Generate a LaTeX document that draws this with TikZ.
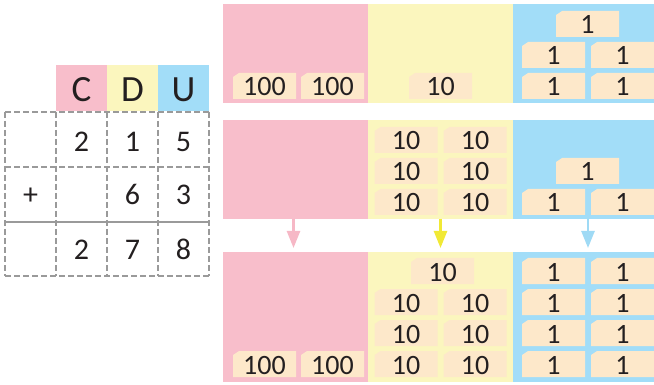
\documentclass[tikz,border=0pt]{standalone}
\usepackage{fontspec}
\setmainfont{Carlito}
\usepackage{xcolor}
\usetikzlibrary{positioning}
\usetikzlibrary{arrows.meta}

\definecolor{pinkC}{HTML}{F8BECB}
\definecolor{yellowD}{HTML}{FBF6BE}
\definecolor{blueU}{HTML}{A2DDF8}
\definecolor{cardfill}{HTML}{FDE8CA}
\definecolor{inkgray}{HTML}{231F20}
\definecolor{gridgray}{HTML}{9A9A9A}
\definecolor{arrowpink}{HTML}{F6B8C6}
\definecolor{arrowyellow}{HTML}{F1E935}
\definecolor{arrowblue}{HTML}{9FDAF5}

\tikzset{
  panel/.style={inner sep=0pt, outer sep=0pt, anchor=north west},
  cardtext/.style={anchor=base, inner sep=0pt, text=inkgray,
    font=\fontsize{28}{28}\selectfont},
  header/.style={inner sep=0pt, minimum width=51pt, minimum height=46pt,
    anchor=north west},
  htext/.style={anchor=base, text=inkgray, font=\fontsize{37}{37}\selectfont},
  digit/.style={anchor=base, text=inkgray, font=\fontsize{30}{30}\selectfont},
  gridline/.style={gridgray, line width=1.3pt, dash pattern=on 6pt off 3pt},
  down/.style={line width=2.5pt, shorten >=4pt,
    -{Triangle[width=13pt,length=17pt]}}
}

% a card with its top left corner cut: name, centre, text
\newcommand{\card}[3]{%
  \fill[cardfill] (#2) ++(-31.5,-9) -- ++(6,-4) -- ++(57,0) -- ++(0,26)
    -- ++(-63,0) -- cycle;
  \node[cardtext] (#1) at ([yshift=-10pt]#2) {#3};
}

\begin{document}
\begin{tikzpicture}[x=1pt,y=-1pt]

\clip (0,0) rectangle (654,385);

% Header boxes C D U
\node[header, fill=pinkC] (hC) at (56,65) {};
\node[header, fill=yellowD] (hD) at (107,65) {};
\node[header, fill=blueU] (hU) at (158,65) {};
\node[htext] (tC) at (81.5,102) {C};
\node[htext] (tD) at (132.5,102) {D};
\node[htext] (tU) at (183.5,102) {U};

% dashed grid
\foreach \x in {5,56,107,158,209}
  \draw[gridline] (\x,112) -- (\x,276);
\foreach \y in {112,167,276}
  \draw[gridline] (5,\y) -- (209,\y);

% result line
\draw[gridgray, line width=2pt] (5,222) -- (209,222);

% the numbers
\node[digit] (a1) at (81.5,152) {2};
\node[digit] (a2) at (132.5,152) {1};
\node[digit] (a3) at (183.5,152) {5};
\node[digit] (plus) at (30.5,205) {+};
\node[digit] (b2) at (132.5,205) {6};
\node[digit] (b3) at (183.5,205) {3};
\node[digit] (s1) at (81.5,259) {2};
\node[digit] (s2) at (132.5,259) {7};
\node[digit] (s3) at (183.5,259) {8};

% Panels, first row
\node[panel, fill=pinkC, minimum width=145pt, minimum height=99pt] (topC) at (223,4) {};
\node[panel, fill=yellowD, minimum width=145pt, minimum height=99pt] (topD) at (368,4) {};
\node[panel, fill=blueU, minimum width=150pt, minimum height=99pt] (topU) at (513,4) {};

% Panels, second row
\node[panel, fill=pinkC, minimum width=145pt, minimum height=99pt] (midC) at (223,120) {};
\node[panel, fill=yellowD, minimum width=145pt, minimum height=99pt] (midD) at (368,120) {};
\node[panel, fill=blueU, minimum width=150pt, minimum height=99pt] (midU) at (513,120) {};

% Panels, third row
\node[panel, fill=pinkC, minimum width=145pt, minimum height=130pt] (botC) at (223,252) {};
\node[panel, fill=yellowD, minimum width=145pt, minimum height=130pt] (botD) at (368,252) {};
\node[panel, fill=blueU, minimum width=150pt, minimum height=130pt] (botU) at (513,252) {};

% Arrows between second and third row
\draw[down, arrowpink] ([xshift=-2pt]midC.south) -- ([xshift=-2pt]botC.north);
\draw[down, arrowyellow] (midD.south) -- (botD.north);
\draw[down, arrowblue] (midU.south) -- (botU.north);

% cards in first row
\card{topC1}{264.5,86}{100}
\card{topC2}{332.5,86}{100}
\card{topD1}{440.5,86}{10}
\card{topU0}{587.5,24}{1}
\foreach \y [count=\r] in {55,86} {
  \card{topUa\r}{553.5,\y}{1}
  \card{topUb\r}{622.5,\y}{1}
}

% cards in second row
\foreach \y [count=\r] in {140,171,202} {
  \card{midDa\r}{406,\y}{10}
  \card{midDb\r}{475,\y}{10}
}
\card{midU0}{587.5,171}{1}
\card{midUa}{553.5,202}{1}
\card{midUb}{622.5,202}{1}

% cards in third row
\card{botC1}{264.5,364}{100}
\card{botC2}{332.5,364}{100}
\card{botD0}{442.5,271}{10}
\foreach \y [count=\r] in {302,333,364} {
  \card{botDa\r}{406,\y}{10}
  \card{botDb\r}{475,\y}{10}
}
\foreach \y [count=\r] in {271,302,333,364} {
  \card{botUa\r}{553.5,\y}{1}
  \card{botUb\r}{622.5,\y}{1}
}

\end{tikzpicture}
\end{document}
